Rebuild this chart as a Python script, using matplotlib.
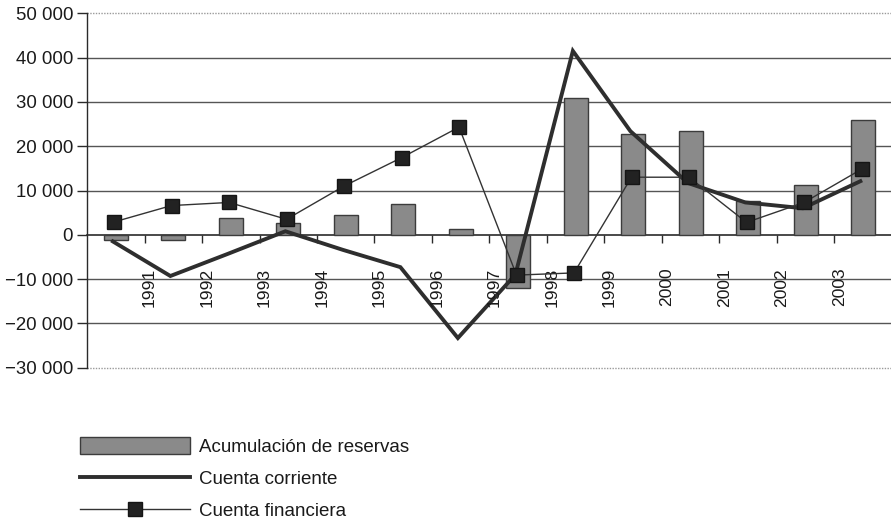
import matplotlib
matplotlib.use("Agg")
import matplotlib.pyplot as plt
import numpy as np
from matplotlib.ticker import FuncFormatter, MultipleLocator
from matplotlib.transforms import ScaledTranslation

plt.rcParams['font.family'] = ['Liberation Sans', 'DejaVu Sans']

# Balance of payments series (millions), one value per period
reservas = [-1200, -1200, 3800, 2600, 4500, 7000, 1400, -12000,
            30900, 22800, 23400, 7600, 11300, 25900]
cuenta_corriente = [-1500, -9300, -4300, 800, -3400, -7300, -23300, -9000,
                    41500, 23400, 11700, 7300, 6000, 12100]
cuenta_financiera = [2900, 6600, 7300, 3500, 11000, 17400, 24300, -9100,
                     -8600, 13000, 13000, 2800, 7300, 14800]
year_labels = ["1991", "1992", "1993", "1994", "1995", "1996", "1997",
               "1998", "1999", "2000", "2001", "2002", "2003"]
series_names = ["Acumulación de reservas", "Cuenta corriente", "Cuenta financiera"]
y_min, y_max, y_step = -30000, 50000, 10000

W, H = 891, 523
fig = plt.figure(figsize=(W / 100, H / 100), dpi=100)
ax = fig.add_axes([87 / W, 1 - 367.7 / H, 805 / W, (367.7 - 13.3) / H])

x = np.arange(len(reservas))

# gridlines
for v in range(y_min + y_step, y_max, y_step):
    if v == 0:
        continue
    ax.axhline(v, color="#555555", lw=1.0, zorder=0)
for v in (y_min, y_max):
    ax.axhline(v, color="#9a9a9a", lw=1.0, ls=(0, (1, 1)), zorder=0, clip_on=False)

bars = ax.bar(x, reservas, width=0.42, color="#8a8a8a", edgecolor="#3c3c3c",
              linewidth=1.0, zorder=2, label=series_names[0])
ax.plot(x - 0.05, cuenta_corriente, color="#2e2e2e", lw=2.8, zorder=3,
        solid_joinstyle="miter", label=series_names[1])
ax.plot(x - 0.03, cuenta_financiera, color="#333333", lw=1.0, marker="s",
        markersize=10, markerfacecolor="#222222", markeredgecolor="#151515",
        zorder=4, label=series_names[2])

ax.set_xlim(-0.5, len(reservas) - 0.5)
ax.set_ylim(y_min, y_max)

# spines: left axis plus a category axis on the zero line
for s in ("top", "right"):
    ax.spines[s].set_visible(False)
ax.spines["bottom"].set_position(("data", 0))
ax.spines["bottom"].set_color("#2a2a2a")
ax.spines["bottom"].set_linewidth(1.2)
ax.spines["bottom"].set_zorder(1)
ax.spines["left"].set_color("#2a2a2a")
ax.spines["left"].set_linewidth(1.0)

ax.yaxis.set_major_locator(MultipleLocator(y_step))
fmt = lambda v, p: f"{int(v):,}".replace(",", " ").replace("-", "\u2212")
ax.yaxis.set_major_formatter(FuncFormatter(fmt))
ax.tick_params(axis="y", direction="out", length=7, width=1.0, color="#2a2a2a",
               labelsize=13.4, pad=3, labelcolor="#1a1a1a")

tick_pos = np.arange(len(year_labels)) + 0.5
ax.set_xticks(tick_pos)
ax.set_xticklabels([])
ax.tick_params(axis="x", direction="out", length=5.5, width=1.0, color="#2a2a2a")

offset = ScaledTranslation(5 / 100, -33 / 100, fig.dpi_scale_trans)
for pos, lab in zip(tick_pos, year_labels):
    ax.text(pos, 0, lab, rotation=90, ha="center", va="top", fontsize=12.6,
            color="#1a1a1a", transform=ax.transData + offset)

leg = fig.legend(handles=[bars, ax.lines[-2], ax.lines[-1]],
                 labels=series_names, loc="upper left",
                 bbox_to_anchor=(80 / W, 1 - 437 / H), frameon=False,
                 fontsize=13.5, handlelength=5.85, handleheight=1.0,
                 labelspacing=0.72, handletextpad=0.5, borderpad=0,
                 borderaxespad=0)
for t in leg.get_texts():
    t.set_color("#1a1a1a")

fig.savefig("out.png", dpi=100)
